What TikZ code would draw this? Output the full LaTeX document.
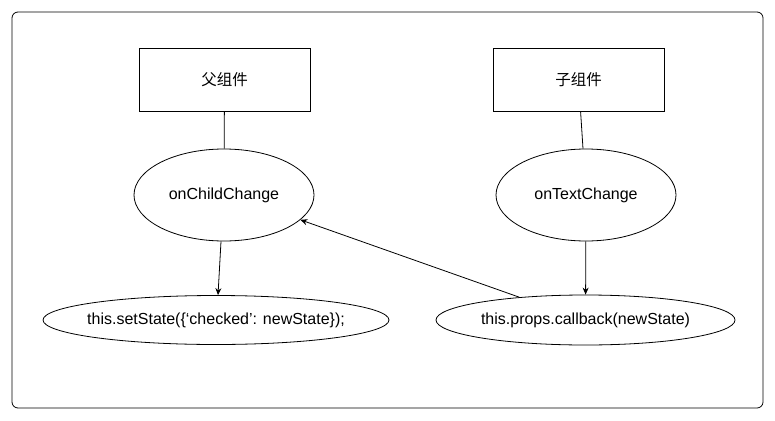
\documentclass[tikz,border=0pt]{standalone}
\usepackage{fontspec}
\setmainfont{Liberation Sans}
\newfontfamily\cjk{Noto Sans CJK SC}
\usetikzlibrary{shapes.geometric, arrows.meta}
\newcommand{\rotulo}[1]{\makebox[0pt]{#1}}

\begin{document}
\begin{tikzpicture} [x = 1pt, y = -1pt, > = {Stealth[length=7pt, width=6pt]}, line width = 0.8pt, font = \fontsize{16}{18}\selectfont]
            % Estilos
            \tikzstyle{comp}=[rectangle, draw, minimum width=171pt, minimum height=63pt, font=\cjk\fontsize{15.5}{18}\selectfont]
            \tikzstyle{func}=[ellipse, draw, inner sep=0pt]

            \useasboundingbox (0,0) rectangle (775,420);
            \draw[rounded corners=6pt] (12,12) rectangle (763,408);

            % Nós
            \node[comp] (pai) at (224.5,79.5) {父组件};
            \node[comp] (filho) at (578.5,79.5) {子组件};
            \node[func, minimum width=180pt, minimum height=92pt] (childchange) at (224,195) {onChildChange};
            \node[func, minimum width=180pt, minimum height=92pt] (textchange) at (586,195) {onTextChange};
            \node[func, minimum width=346pt, minimum height=49pt] (setstate) at (216,320) {\rotulo{this.setState(\{‘checked’: newState\});}};
            \node[func, minimum width=299pt, minimum height=50pt] (callback) at (585.5,320) {\rotulo{this.props.callback(newState)}};

            % Arestas
            \draw (pai) -- (childchange);
            \draw (filho) -- (textchange);
            \draw[->] ([xshift=-3pt]childchange.south) -- ([xshift=2pt]setstate.north);
            \draw[->] (textchange) -- (callback);
            \draw[->] (callback.161) -- (childchange.-18);
        \end{tikzpicture}
\end{document}
